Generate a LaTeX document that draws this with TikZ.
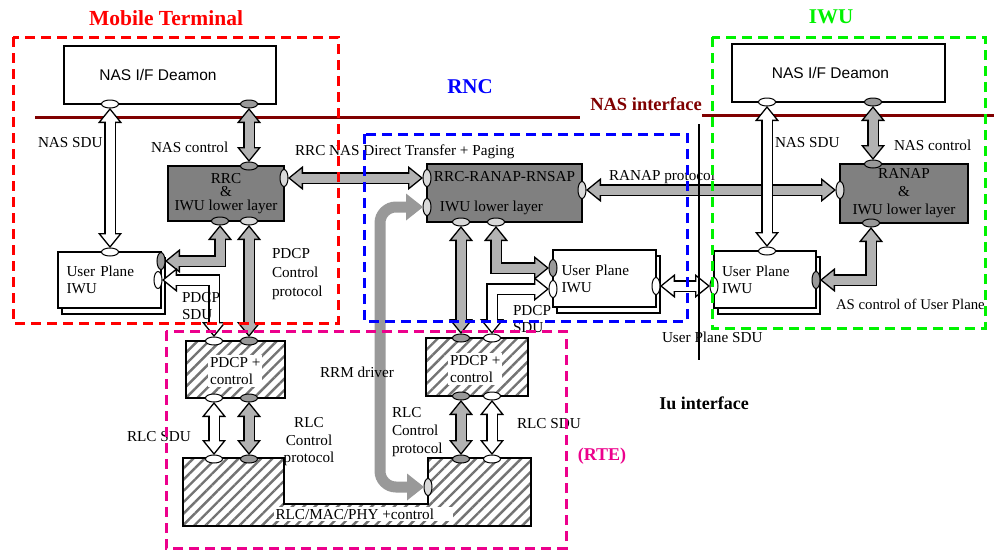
\documentclass[tikz,border=0pt]{standalone}
\usepackage{fontspec}
\setmainfont{Liberation Serif}
\newfontfamily\arialfont{Liberation Sans}
\usetikzlibrary{positioning,arrows.meta,shapes.geometric,shadows,patterns.meta}
\definecolor{nasred}{rgb}{0.5,0,0}
\definecolor{iwugreen}{rgb}{0,0.95,0}

\begin{document}
\begin{tikzpicture}[
x=1pt, y=-1pt,
every node/.style={font=\fontsize{15.2}{17}\selectfont, inner sep=0pt, outer sep=0pt},
headline/.style={font=\fontsize{21.5}{23}\selectfont\bfseries},
zone/.style={line width=3pt, dash pattern=on 10pt off 6pt},
nasbox/.style={draw, line width=1.3pt, fill=white, minimum width=212pt, minimum height=58pt, font=\arialfont\fontsize{15.5}{17}\selectfont},
darkbox/.style={draw, line width=1.3pt, fill=gray, align=center, font=\fontsize{15.2}{13.5}\selectfont},
upbox/.style={draw, line width=1.3pt, fill=white, minimum width=103pt, minimum height=56pt, text width=86pt, align=left, copy shadow={shadow xshift=4pt, shadow yshift=-6pt, draw, line width=1.3pt, fill=white}},
hatch/.style={draw, line width=1.3pt, pattern={Lines[angle=45,distance=8pt,line width=2.4pt]}, pattern color=black!55},
port/.style={ellipse, draw, line width=1pt, fill=#1, minimum width=17pt, minimum height=8pt},
vport/.style={ellipse, draw, line width=1pt, fill=#1, minimum width=8pt, minimum height=17pt},
fat/.style={draw=black, line width=12pt, arrows={Triangle[length=15pt,width=24pt,line width=1.3pt,fill=#1]-Triangle[length=15pt,width=24pt,line width=1.3pt,fill=#1]}, postaction={draw=#1, line width=9pt, arrows=-, shorten <=12pt, shorten >=12pt}},
lbl/.style={align=left, anchor=west}
]
\useasboundingbox (0,0) rectangle (994,550);
\fill[white] (0,0) rectangle (994,550);

\draw[nasred, line width=3pt] (35,117) -- (580,117);
\draw[nasred, line width=3pt] (702,115) -- (994,115);

\node[nasbox] (mtNas) at (170,75) {NAS I/F Deamon\hspace*{24pt}};
\node[darkbox, minimum width=116pt, minimum height=55pt] (mtRrc) at (226,193.5) {RRC\\\&\\IWU lower layer};
\node[upbox] (mtUp) at (109.5,280) {User Plane\\IWU};
\node[hatch, minimum width=99pt, minimum height=57pt] (mtPdcp) at (235.5,369.5) {};
\node[lbl, fill=white, inner sep=2pt] (mtPdcpTxt) at (208,371) {PDCP +\\control};

\draw[hatch] (183,458) -- (284,458) -- (284,504) -- (428,504) -- (428,458) -- (531,458) -- (531,526) -- (183,526) -- cycle;
\node[lbl, fill=white, inner sep=1.5pt] (rlcTxt) at (274,514) {RLC/MAC/PHY +control\hspace*{18pt}};

\node[darkbox, align=left, minimum width=155pt, minimum height=58pt, font=\fontsize{15.2}{17}\selectfont] (rncCtl) at (504.5,193) {RRC-RANAP-RNSAP\\[13pt]\hspace*{6pt}IWU lower layer};
\node[upbox, minimum height=57pt] (rncUp) at (604.5,278.5) {User Plane\\IWU};
\node[hatch, minimum width=102pt, minimum height=58pt] (rncPdcp) at (477,367) {};
\node[lbl, fill=white, inner sep=2pt] (rncPdcpTxt) at (448,369) {PDCP +\\control};

\node[nasbox, minimum width=213pt] (iwuNas) at (838.5,73) {NAS I/F Deamon\hspace*{16pt}};
\node[darkbox, minimum width=128pt, minimum height=59pt, font=\fontsize{15.2}{18}\selectfont] (iwuRan) at (904,193.5) {RANAP\\\&\\IWU lower layer};
\node[upbox, minimum width=102pt, minimum height=57pt] (iwuUp) at (765,279.5) {User Plane\\IWU};

\node[port=white] (mtNasA) at (110,104) {};
\node[port=gray!80] (mtNasB) at (249,104) {};
\node[port=gray!80] (mtRrcT) at (249,166) {};
\node[vport=gray!30] (mtRrcR) at (284,178) {};
\node[port=gray!80] (mtRrcB1) at (220,221) {};
\node[port=gray!30] (mtRrcB2) at (249,221) {};
\node[port=white] (mtUpT) at (110,252) {};
\node[vport=gray!80] (mtUpR1) at (161,261) {};
\node[vport=white] (mtUpR2) at (158,280) {};
\node[port=white] (mtPdcpT1) at (214,341) {};
\node[port=gray!80] (mtPdcpT2) at (249,341) {};
\node[port=white] (mtPdcpB1) at (214,398) {};
\node[port=gray!80] (mtPdcpB2) at (249,398) {};
\node[port=white] (rlcT1) at (214,459) {};
\node[port=gray!80] (rlcT2) at (249,459) {};
\node[port=gray!80] (rlcT3) at (461,459) {};
\node[port=white] (rlcT4) at (492,459) {};
\node[vport=gray!30] (rlcL) at (428,487) {};

\node[vport=gray!30] (rncL1) at (427,178) {};
\node[vport=gray!30] (rncL2) at (427,207) {};
\node[vport=gray!30] (rncR) at (582,190) {};
\node[port=gray!30] (rncB1) at (461,222) {};
\node[port=gray!30] (rncB2) at (496,222) {};
\node[vport=gray!80] (rncUpL1) at (553,268) {};
\node[vport=white] (rncUpL2) at (553,289) {};
\node[vport=white] (rncUpR) at (656,286) {};
\node[port=gray!80] (rncPdcpT1) at (461,338) {};
\node[port=white] (rncPdcpT2) at (492,338) {};
\node[port=gray!80] (rncPdcpB1) at (461,396) {};
\node[port=white] (rncPdcpB2) at (492,396) {};

\node[port=white] (iwuNasA) at (767,102) {};
\node[port=gray!80] (iwuNasB) at (873,102) {};
\node[port=gray!80] (iwuRanT) at (873,164) {};
\node[vport=gray!30] (iwuRanL) at (840,190) {};
\node[port=gray!80] (iwuRanB) at (871,223) {};
\node[port=white] (iwuUpT) at (767,251) {};
\node[vport=gray!80] (iwuUpR) at (816,280) {};
\node[vport=white] (iwuUpL) at (714,286) {};

\draw[fat=white] (mtNasA) -- (mtUpT);
\draw[fat=gray!60] (mtNasB) -- (mtRrcT);
\draw[fat=gray!60] (mtRrcR) -- (rncL1);
\draw[fat=gray!60] (rncR) -- (iwuRanL);
\draw[fat=white] (iwuNasA) -- (iwuUpT);
\draw[fat=gray!60] (iwuNasB) -- (iwuRanT);
\draw[fat=gray!60] (iwuRanB) |- (iwuUpR);
\draw[fat=white] (rncUpR) -- (iwuUpL);
\draw[fat=gray!60] (mtRrcB1) |- (mtUpR1);
\draw[fat=white] (mtUpR2) -| (mtPdcpT1);
\draw[fat=gray!60] (mtRrcB2) -- (mtPdcpT2);
\draw[fat=white] (mtPdcpB1) -- (rlcT1);
\draw[fat=gray!60] (mtPdcpB2) -- (rlcT2);
\draw[fat=gray!60] (rncB1) -- (rncPdcpT1);
\draw[fat=gray!60] (rncB2) |- (rncUpL1);
\draw[fat=white] (rncUpL2) -| (rncPdcpT2);
\draw[fat=gray!60] (rncPdcpB1) -- (rlcT3);
\draw[fat=white] (rncPdcpB2) -- (rlcT4);

\coordinate (rrmBend) at (380,350);
\draw[draw=gray!80, line width=11pt, rounded corners=16pt, arrows={Triangle[length=17pt,width=27pt,line width=0pt,fill=gray!80]-Triangle[length=17pt,width=27pt,line width=0pt,fill=gray!80]}] (rncL2) -| (rrmBend) |- (rlcL);

\node[lbl] (mtNasSduLbl) at (38,143) {NAS SDU};
\node[lbl] (mtNasCtlLbl) at (151,147) {NAS control};
\node[lbl] (rrcNasLbl) at (295,152) {RRC NAS Direct Transfer + Paging};
\node[lbl] (ranapLbl) at (609,177) {RANAP protocol};
\node[lbl] (iwuNasSduLbl) at (775,143) {NAS SDU};
\node[lbl] (iwuNasCtlLbl) at (894,145) {NAS control};
\node[lbl, font=\fontsize{14.8}{17}\selectfont] (asCtlLbl) at (836,304) {AS control of User Plane};
\node[lbl] (upSduLbl) at (662,337) {User Plane SDU};
\node[lbl] (mtPdcpSduLbl) at (182,306) {PDCP\\SDU};
\node[lbl, font=\fontsize{15.2}{19}\selectfont] (mtPdcpCtlLbl) at (272,274) {PDCP\\Control\\protocol};
\node[lbl] (mtRlcSduLbl) at (127,437) {RLC SDU};
\node[align=center, font=\fontsize{15.2}{17.5}\selectfont] (mtRlcCtlLbl) at (309,442) {RLC\\Control\\protocol};
\node[lbl] (rrmLbl) at (320,372) {RRM driver};
\node[lbl, font=\fontsize{15.2}{18}\selectfont] (rncRlcCtlLbl) at (392,432) {RLC\\Control\\protocol};
\node[lbl] (rncRlcSduLbl) at (517,424) {RLC SDU};
\node[lbl] (rncPdcpSduLbl) at (513,319) {PDCP\\SDU};

\draw[line width=2.5pt] (699,124) -- (699,360);

\draw[zone, red] (13,37) rectangle (338,323);
\draw[zone, iwugreen] (712,37) rectangle (985,328);
\draw[zone, blue] (364,134) rectangle (687,321);
\draw[zone, magenta] (166,331) rectangle (566,548);

\node[headline, text=red] (mtTitle) at (166,18) {Mobile Terminal};
\node[headline, font=\fontsize{21}{23}\selectfont\bfseries, text=iwugreen] (iwuTitle) at (831,17) {IWU};
\node[headline, font=\fontsize{21}{23}\selectfont\bfseries, text=blue] (rncTitle) at (470,87) {RNC};
\node[headline, font=\fontsize{18.5}{20}\selectfont\bfseries, text=nasred] (nasTitle) at (646,104) {NAS interface};
\node[headline, font=\fontsize{18}{20}\selectfont\bfseries, text=magenta] (rteTitle) at (602,456) {(RTE)};
\node[headline, font=\fontsize{18}{20}\selectfont\bfseries] (iuTitle) at (704,403) {Iu interface};
\end{tikzpicture}
\end{document}
